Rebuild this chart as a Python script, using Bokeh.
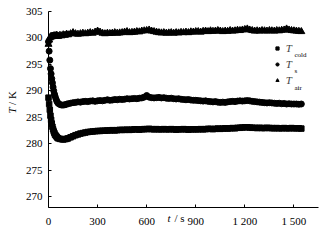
import math
from bokeh.plotting import figure
from bokeh.models import FixedTicker, Legend, LegendItem, Label, Range1d
from bokeh.embed import file_html
from bokeh.resources import INLINE

# ---- data ----
t_early = [0, 4, 8, 12, 16, 20, 24, 28, 32, 36, 40, 45, 50, 55, 60,
           70, 80, 90, 100, 110, 120, 135, 150]
time_s = t_early + list(range(165, 1546, 15))

T_cold = [288.7, 287.5, 286.4, 285.3, 284.5, 283.8, 283.2, 282.7, 282.3, 282.0, 281.7, 281.5, 281.3, 281.1, 281.0,
          280.9, 280.85, 280.8, 280.85, 280.9, 281.0, 281.2, 281.4,
          281.6, 281.75, 281.9, 282.0, 282.1, 282.2, 282.25, 282.3, 282.35, 282.4,
          282.4, 282.45, 282.45, 282.5, 282.5, 282.55, 282.5, 282.55, 282.6, 282.6,
          282.6, 282.65, 282.6, 282.65, 282.7, 282.7, 282.65, 282.7, 282.75, 282.75,
          282.8, 282.75, 282.7, 282.75, 282.7, 282.7, 282.75, 282.7, 282.7, 282.75,
          282.7, 282.65, 282.7, 282.7, 282.75, 282.7, 282.65, 282.7, 282.7, 282.7,
          282.7, 282.75, 282.7, 282.75, 282.8, 282.8, 282.75, 282.8, 282.85, 282.8,
          282.85, 282.9, 282.85, 282.9, 282.95, 282.9, 283.0, 283.0, 283.05, 283.1,
          283.1, 283.05, 283.0, 283.0, 282.95, 283.0, 282.95, 282.95, 283.0, 282.95,
          282.95, 282.9, 282.95, 282.9, 282.9, 282.95, 282.9, 282.9, 282.95, 282.9,
          282.9, 282.9, 282.85]

T_s = [299.3, 297.5, 295.8, 294.2, 293.2, 292.3, 291.5, 290.7, 290.0, 289.4, 289.0, 288.5, 288.1, 287.8, 287.6,
       287.4, 287.3, 287.3, 287.35, 287.45, 287.55, 287.65, 287.75,
       287.8, 287.9, 287.85, 287.95, 288.0, 287.95, 288.05, 288.1, 288.0, 288.1,
       288.15, 288.1, 288.2, 288.3, 288.2, 288.25, 288.35, 288.3, 288.4, 288.35,
       288.4, 288.5, 288.45, 288.5, 288.55, 288.5, 288.6, 288.65, 288.8, 289.1,
       288.8, 288.7, 288.65, 288.7, 288.75, 288.65, 288.7, 288.6, 288.55, 288.6,
       288.5, 288.45, 288.5, 288.4, 288.35, 288.3, 288.35, 288.25, 288.2, 288.2,
       288.15, 288.1, 288.05, 288.1, 288.0, 287.95, 287.9, 287.95, 287.85, 287.8,
       287.85, 287.8, 287.9, 287.95, 288.0, 287.95, 288.05, 288.1, 288.05, 288.1,
       288.15, 288.1, 288.0, 287.95, 287.9, 287.85, 287.8, 287.75, 287.7, 287.75,
       287.7, 287.65, 287.6, 287.65, 287.55, 287.6, 287.5, 287.55, 287.5, 287.5,
       287.5, 287.45, 287.5]

T_air = [298.8, 299.6, 300.0, 300.2, 300.3, 300.2, 300.35, 300.3, 300.4, 300.3, 300.45, 300.3, 300.5, 300.4, 300.3,
         300.5, 300.4, 300.6, 300.5, 300.7, 300.6, 300.8, 301.0,
         300.8, 300.7, 300.8, 300.9, 300.8, 300.9, 301.0, 300.9, 301.1, 301.3,
         301.1, 300.9, 300.8, 300.9, 300.85, 300.9, 301.0, 300.9, 300.95, 301.0,
         301.1, 301.2, 301.0, 301.05, 301.1, 301.2, 301.15, 301.3, 301.35, 301.4,
         301.5, 301.3, 301.2, 301.1, 301.0, 300.95, 301.0, 300.9, 300.95, 301.0,
         300.9, 301.0, 300.95, 301.05, 301.0, 301.1, 301.0, 301.15, 301.1, 301.2,
         301.2, 301.1, 301.25, 301.3, 301.2, 301.35, 301.25, 301.3, 301.4, 301.3,
         301.2, 301.3, 301.25, 301.4, 301.3, 301.35, 301.45, 301.4, 301.5, 301.6,
         301.7, 301.5, 301.4, 301.3, 301.35, 301.3, 301.4, 301.35, 301.3, 301.4,
         301.35, 301.3, 301.4, 301.35, 301.45, 301.5, 301.7, 301.5, 301.4, 301.35,
         301.3, 301.25, 301.2]

x_ticks = [0, 300, 600, 900, 1200, 1500]
x_tick_labels = {1200: "1 200", 1500: "1 500"}
y_ticks = [270, 275, 280, 285, 290, 295, 300, 305]
x_axis_span = (0, 1650)
y_axis_span = (267.92, 305)
series_labels = ["cold", "s", "air"]

FONT = "Liberation Serif"
W, H = 319, 226
# frame covers the whole canvas; the axes sit at fixed locations inside it
x_px = 270.0 / (x_axis_span[1] - x_axis_span[0])      # px per second
y_px = 196.0 / (y_axis_span[1] - y_axis_span[0])      # px per kelvin
x_start = x_axis_span[0] - 48 / x_px
x_end = x_start + W / x_px
y_end = y_axis_span[1] + 11 / y_px
y_start = y_end - H / y_px

p = figure(width=W, height=H, output_backend="svg", toolbar_location=None,
           x_range=Range1d(x_start, x_end), y_range=Range1d(y_start, y_end),
           min_border=0, min_border_left=0, min_border_right=0,
           min_border_top=0, min_border_bottom=0)
p.outline_line_color = None
p.xgrid.visible = False
p.ygrid.visible = False
p.background_fill_color = "white"
p.border_fill_color = "white"

p.xaxis.fixed_location = y_axis_span[0]
p.yaxis.fixed_location = x_axis_span[0]
p.xaxis.bounds = x_axis_span
p.yaxis.bounds = y_axis_span

for ax in (p.xaxis[0], p.yaxis[0]):
    ax.axis_line_color = "black"
    ax.axis_line_width = 1
    ax.major_tick_in = 3
    ax.major_tick_out = 0
    ax.minor_tick_line_color = None
    ax.major_tick_line_color = "black"
    ax.major_label_text_font = FONT
    ax.major_label_text_font_size = "11px"
    ax.major_label_text_color = "black"
p.xaxis.major_label_standoff = 7
p.yaxis.major_label_standoff = 6

p.xaxis.ticker = FixedTicker(ticks=x_ticks)
p.xaxis.major_label_overrides = x_tick_labels
p.yaxis.ticker = FixedTicker(ticks=y_ticks)

r_cold = p.scatter(time_s, T_cold, marker="square", size=5.5, color="black")
r_s = p.scatter(time_s, T_s, marker="circle", size=6, color="black")
r_air = p.scatter(time_s, T_air, marker="triangle", size=7, color="black")

legend = Legend(items=[LegendItem(label="T", renderers=[r_cold]),
                       LegendItem(label="T", renderers=[r_s]),
                       LegendItem(label="T", renderers=[r_air])],
                location=(272.7, 138.7), orientation="vertical", padding=0, margin=0, spacing=2,
                glyph_width=8, glyph_height=14, label_height=14, label_standoff=5,
                label_text_font=FONT, label_text_font_style="italic", label_text_font_size="11px",
                border_line_color=None, background_fill_alpha=0)
p.add_layout(legend)

sub_y = [171.7, 155.5, 139.0]
for lab, yy in zip(series_labels, sub_y):
    p.add_layout(Label(x=294, y=yy, x_units="screen", y_units="screen", text=lab,
                       text_font=FONT, text_font_size="7px", text_align="left",
                       text_baseline="middle", text_color="black"))

# axis titles
def title_label(**kw):
    return Label(x_units="screen", y_units="screen", text_font=FONT, text_font_size="11px",
                 text_color="black", **kw)

p.add_layout(title_label(x=11.7, y=116, text="T", angle=math.pi / 2, text_font_style="italic",
                         text_align="center", text_baseline="middle"))
p.add_layout(title_label(x=11.7, y=128.5, text="/ K", angle=math.pi / 2,
                         text_align="center", text_baseline="middle"))
p.add_layout(title_label(x=168.5, y=3, text="t", text_font_style="italic",
                         text_align="center", text_baseline="bottom"))
p.add_layout(title_label(x=179, y=3, text="/ s",
                         text_align="center", text_baseline="bottom"))

open("out.html", "w").write(file_html(p, INLINE))
